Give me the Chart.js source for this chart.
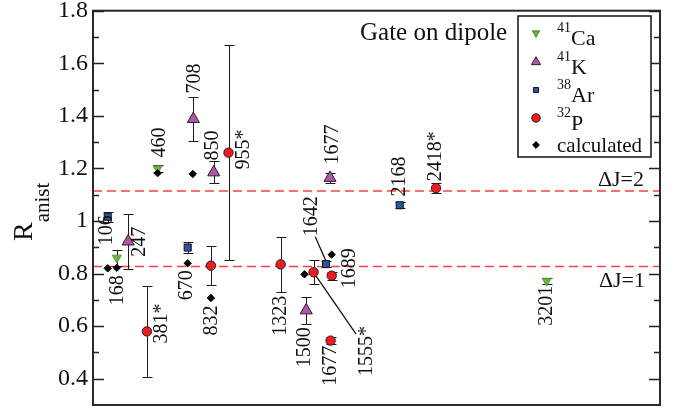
<!DOCTYPE html>
<html><head><meta charset="utf-8">
<script src="https://cdn.jsdelivr.net/npm/chart.js@4/dist/chart.umd.min.js"></script>
<style>html,body{margin:0;padding:0;background:#fff}#wrap{width:681px;height:413px}</style>
</head><body><div id="wrap"><canvas id="c" width="681" height="413"></canvas></div>
<script>
// ---------- data ----------
const caX = [4.2, 11.4, 80.0];
const caY = [0.86, 1.20, 0.772];
const caErr = [0.03, 0.012, 0.01];
const kX = [6.2, 17.7, 21.3, 37.6, 41.8];
const kY = [0.922, 1.388, 1.185, 0.66, 1.164];
const kErr = [0.105, 0.085, 0.042, 0.05, 0.02];
const arX = [2.6, 16.7, 41.1, 54.1];
const arY = [1.016, 0.899, 0.836, 1.06];
const arErr = [0.018, 0.02, 0.012, 0.012];
const pX = [9.5, 20.8, 23.9, 33.1, 38.9, 41.9, 42.1, 60.5];
const pY = [0.58, 0.83, 1.26, 0.835, 0.805, 0.545, 0.792, 1.125];
const pErr = [0.172, 0.075, 0.41, 0.106, 0.045, 0.012, 0.015, 0.02];
const calcX = [2.6, 4.2, 11.4, 16.7, 17.6, 20.8, 37.3, 42.1];
const calcY = [0.82, 0.822, 1.182, 0.839, 1.179, 0.707, 0.797, 0.872];
const limitValues = [1.114, 0.827];
const limitNames = ['ΔJ=2', 'ΔJ=1'];
const levelNames = ['106','168','247','381*','460','670','708','832','850','955*','1323','1500','1642','1677','1677','1555*','1689','2168','2418*','3201'];
const yTickValues = [0.4, 0.6, 0.8, 1, 1.2, 1.4, 1.6, 1.8];
const seriesNames = [['41','Ca'], ['41','K'], ['38','Ar'], ['32','P'], ['','calculated']];
const gateText = 'Gate on dipole';

// ---------- layout (annotation anchors in data units) ----------
const levelAnchorX = [2.5, 4.4, 8.3, 12.2, 11.8, 16.6, 18.0, 21.0, 21.2, 26.5, 33.2, 37.4, 38.6, 42.3, 42.0, 48.3, 45.3, 54.1, 60.5, 80.1];
const levelAnchorY = [0.965, 0.737, 0.921, 0.61, 1.299, 0.756, 1.542, 0.621, 1.287, 1.272, 0.64, 0.52, 1.018, 1.291, 0.449, 0.505, 0.82, 1.169, 1.246, 0.678];
const leaders = [[39.2, 0.94, 41.1, 0.847], [39.2, 0.795, 46.4, 0.57]];

const SERIF = '"Liberation Serif", "Times New Roman", "DejaVu Serif", serif';
const pts = (xs, ys) => xs.map((v, i) => ({x: v, y: ys[i]}));

function shape(ctx, kind, x, y, r) {
  ctx.beginPath();
  if (kind === 'circle') { ctx.arc(x, y, r, 0, Math.PI * 2); }
  else if (kind === 'up' || kind === 'down') {
    const s = kind === 'up' ? -1 : 1;
    for (let k = 0; k < 3; k++) {
      const a = k * 2 * Math.PI / 3;
      const px = x + Math.sin(a) * r, py = y + s * Math.cos(a) * r;
      k ? ctx.lineTo(px, py) : ctx.moveTo(px, py);
    }
    ctx.closePath();
  } else if (kind === 'rect') { const h = r * Math.SQRT1_2; ctx.rect(x - h, y - h, 2 * h, 2 * h); }
  else if (kind === 'diamond') { ctx.moveTo(x - r, y); ctx.lineTo(x, y - r); ctx.lineTo(x + r, y); ctx.lineTo(x, y + r); ctx.closePath(); }
}

const decor = {
  id: 'decor',
  beforeDatasetsDraw(chart) {
    const {ctx, chartArea: a, scales: {x, y}} = chart;
    ctx.save();
    ctx.strokeStyle = '#ff4040'; ctx.lineWidth = 1.6; ctx.setLineDash([9, 5]);
    limitValues.forEach(v => {
      const py = y.getPixelForValue(v);
      ctx.beginPath(); ctx.moveTo(a.left, py); ctx.lineTo(a.right, py); ctx.stroke();
    });
    ctx.setLineDash([]);
    ctx.strokeStyle = '#1a1a1a'; ctx.lineWidth = 1;
    chart.data.datasets.forEach(ds => {
      if (!ds.errors) return;
      ds.data.forEach((p, i) => {
        const e = ds.errors[i];
        const px = Math.round(x.getPixelForValue(p.x)) + 0.5;
        const y1 = Math.round(y.getPixelForValue(p.y + e)) + 0.5;
        const y2 = Math.round(y.getPixelForValue(p.y - e)) + 0.5;
        ctx.beginPath();
        ctx.moveTo(px, y1); ctx.lineTo(px, y2);
        ctx.moveTo(px - 5, y1); ctx.lineTo(px + 5, y1);
        ctx.moveTo(px - 5, y2); ctx.lineTo(px + 5, y2);
        ctx.stroke();
      });
    });
    ctx.lineWidth = 1.3; ctx.strokeStyle = '#111';
    leaders.forEach(l => {
      ctx.beginPath();
      ctx.moveTo(x.getPixelForValue(l[0]), y.getPixelForValue(l[1]));
      ctx.lineTo(x.getPixelForValue(l[2]), y.getPixelForValue(l[3]));
      ctx.stroke();
    });
    ctx.restore();
  },
  afterDatasetsDraw(chart) {
    const {ctx, chartArea: a, scales: {x, y}} = chart;
    ctx.save();
    // frame
    ctx.strokeStyle = '#2a2a2a'; ctx.lineWidth = 2;
    ctx.strokeRect(a.left, a.top, a.right - a.left, a.bottom - a.top);
    // inward ticks left and right
    ctx.lineWidth = 1.5; ctx.strokeStyle = '#222';
    y.ticks.forEach(t => {
      const n = Math.round(t.value * 10);
      if (n <= 3) return;
      const len = n % 2 === 0 ? 11 : 6;
      const py = Math.round(y.getPixelForValue(t.value)) + 0.5;
      ctx.beginPath();
      ctx.moveTo(a.left, py); ctx.lineTo(a.left + len, py);
      ctx.moveTo(a.right, py); ctx.lineTo(a.right - len, py);
      ctx.stroke();
    });
    // level labels (rotated)
    ctx.fillStyle = '#111';
    ctx.font = '20px ' + SERIF;
    ctx.textAlign = 'center'; ctx.textBaseline = 'middle';
    levelNames.forEach((s, i) => {
      ctx.save();
      ctx.translate(x.getPixelForValue(levelAnchorX[i]), y.getPixelForValue(levelAnchorY[i]));
      ctx.rotate(-Math.PI / 2);
      ctx.fillText(s, 0, 0);
      ctx.restore();
    });
    // Delta J labels
    ctx.font = '22px ' + SERIF;
    ctx.textAlign = 'right'; ctx.textBaseline = 'alphabetic';
    ctx.fillText(limitNames[0], a.right - 16, y.getPixelForValue(limitValues[0]) - 5);
    ctx.fillText(limitNames[1], a.right - 15, y.getPixelForValue(limitValues[1]) + 21);
    // gate text
    ctx.textAlign = 'left';
    ctx.font = '25px ' + SERIF;
    ctx.fillText(gateText, 360, 40);
    // legend
    const lx = 518, ly = 16, lw = 133, lh = 141;
    ctx.fillStyle = '#fff'; ctx.fillRect(lx, ly, lw, lh);
    ctx.strokeStyle = '#111'; ctx.lineWidth = 1.5; ctx.strokeRect(lx, ly, lw, lh);
    const rows = [33, 62, 90, 118, 145];
    const ds = chart.data.datasets;
    const order = [1, 2, 3, 4, 0];
    const kinds = ['down', 'up', 'rect', 'circle', 'diamond'];
    const rad = [4.3, 5.3, 3.6, 4.3, 3.4];
    order.forEach((di, k) => {
      const d = ds[di];
      ctx.fillStyle = d.backgroundColor; ctx.strokeStyle = d.borderColor; ctx.lineWidth = 1;
      shape(ctx, kinds[k], 536, rows[k], rad[k]);
      ctx.fill(); ctx.stroke();
      const [sup, main] = seriesNames[k];
      ctx.fillStyle = '#111';
      let tx = 557;
      if (sup) {
        ctx.font = '14px ' + SERIF; ctx.fillText(sup, tx, rows[k] - 1);
        tx += ctx.measureText(sup).width;
        ctx.font = '22px ' + SERIF; ctx.fillText(main, tx, rows[k] + 12);
      } else {
        ctx.font = '21px ' + SERIF; ctx.fillText(main, tx, rows[k] + 7);
      }
    });
    // y title R_anist
    ctx.fillStyle = '#111';
    ctx.translate(32, 241);
    ctx.rotate(-Math.PI / 2);
    ctx.textAlign = 'left';
    ctx.font = '28px ' + SERIF;
    ctx.fillText('R', 0, 0);
    const wR = ctx.measureText('R').width;
    ctx.font = '21px ' + SERIF;
    ctx.fillText('anist', wR, 17);
    ctx.restore();
  }
};

new Chart(document.getElementById('c'), {
  type: 'scatter',
  data: {
    datasets: [
      {label: 'calculated', data: pts(calcX, calcY), pointStyle: 'rectRot', pointRadius: 3.7,
       backgroundColor: '#000', borderColor: '#000', borderWidth: 1},
      {label: '41Ca', data: pts(caX, caY), errors: caErr, pointStyle: 'triangle', rotation: 180, pointRadius: 5.3,
       backgroundColor: '#6bb23f', borderColor: '#4f8d2c', borderWidth: 0.8},
      {label: '41K', data: pts(kX, kY), errors: kErr, pointStyle: 'triangle', pointRadius: 7,
       backgroundColor: '#b454a8', borderColor: '#222', borderWidth: 1},
      {label: '38Ar', data: pts(arX, arY), errors: arErr, pointStyle: 'rect', pointRadius: 5,
       backgroundColor: '#2f52a2', borderColor: '#111', borderWidth: 1},
      {label: '32P', data: pts(pX, pY), errors: pErr, pointStyle: 'circle', pointRadius: 4.7,
       backgroundColor: '#ee1c1e', borderColor: '#222', borderWidth: 1}
    ]
  },
  options: {
    responsive: false, animation: false, devicePixelRatio: 1,
    layout: {padding: {left: 0, right: 21, top: 10.7, bottom: 6}},
    plugins: {legend: {display: false}, tooltip: {enabled: false}},
    scales: {
      x: {type: 'linear', display: false, min: 0, max: 100},
      y: {
        type: 'linear', min: 0.3, max: 1.8,
        grid: {display: false, drawTicks: false}, border: {display: false},
        afterFit(s) { s.width = 93; },
        ticks: {
          stepSize: 0.1, autoSkip: false, padding: 5, color: '#111',
          font: {family: SERIF, size: 24, lineHeight: 0.05},
          callback(v) { const n = Math.round(v * 10); return (n % 2 === 0 && yTickValues.includes(n / 10)) ? String(n / 10) : ''; }
        }
      }
    }
  },
  plugins: [decor]
});
</script>
</body></html>
